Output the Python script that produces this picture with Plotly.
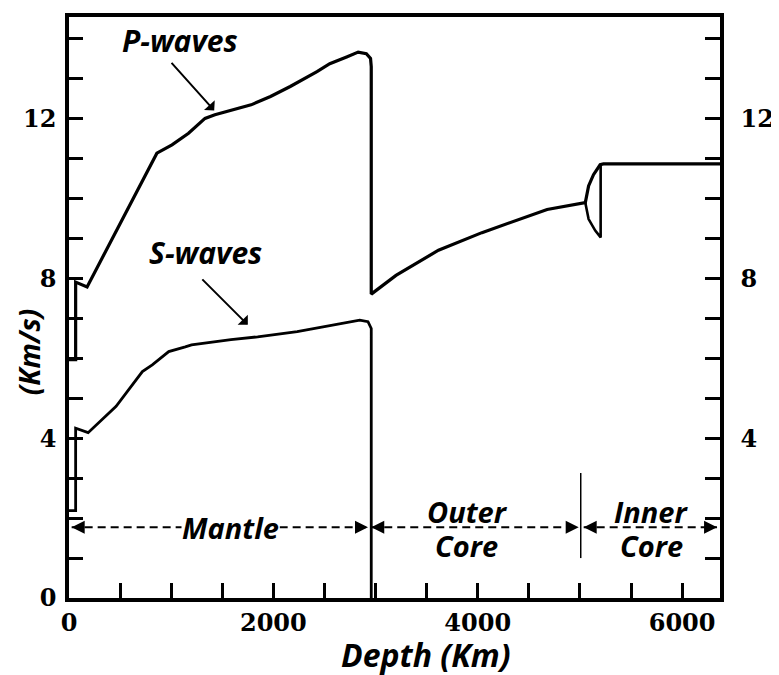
import plotly.graph_objects as go

# ---- data (depth km, velocity km/s) ----
p_depth = [0, 65, 65, 177, 860, 1008, 1170, 1331, 1428, 1782, 1972, 2165, 2427, 2552,
           2717, 2830, 2910, 2951, 2958, 2958, 3200, 3616, 4041, 4679, 5053,
           5085, 5133, 5198, 5230, 6371]
p_vel = [5.97, 5.97, 7.91, 7.79, 11.14, 11.35, 11.64, 12.01, 12.10, 12.35, 12.56, 12.81, 13.18, 13.38,
         13.55, 13.67, 13.63, 13.51, 13.31, 7.61, 8.08, 8.71, 9.15, 9.73, 9.90,
         10.32, 10.60, 10.85, 10.87, 10.87]

# lower branch of the inner-core transition lens
p2_depth = [5053, 5085, 5150, 5203, 5203]
p2_vel = [9.90, 9.49, 9.20, 9.03, 10.85]

s_depth = [0, 65, 65, 187, 461, 622, 718, 815, 976, 1138, 1199, 1585, 1846, 2233, 2491,
           2845, 2926, 2958, 2958]
s_vel = [2.19, 2.19, 4.25, 4.14, 4.80, 5.34, 5.67, 5.84, 6.17, 6.29, 6.34, 6.47, 6.54, 6.67, 6.79,
         6.96, 6.92, 6.75, 0.0]

x_ticks = list(range(0, 6001, 500))
x_ticktext = ["0" if v == 0 else (str(v) if v % 2000 == 0 else "") for v in x_ticks]
y_ticks = list(range(0, 15))
y_ticktext = [str(v) if v % 4 == 0 else "" for v in y_ticks]
y2_ticktext = [str(v) if (v % 4 == 0 and v > 0) else "" for v in y_ticks]

X_MAX = 6371
Y_MAX = 14.55

# region annotation layout (data coordinates)
region_y = 1.77
mantle = (26, 2926)
outer = (2958, 4988)
inner = (5037, 6342)
icb_depth = 5008

FAM = "Open Sans"
label_font = dict(family=FAM, size=29, color="black", weight="bold", style="italic")
wave_font = dict(family=FAM, size=30, color="black", weight="bold", style="italic")
title_font = dict(family=FAM, size=32, color="black", weight="bold", style="italic")
ytitle_font = dict(family=FAM, size=28, color="black", weight="bold", style="italic")
tick_font = dict(family="DejaVu Serif", size=24, color="black", weight="bold")

fig = go.Figure()
fig.add_trace(go.Scatter(x=p_depth, y=p_vel, mode="lines",
                         line=dict(color="black", width=3.2), hoverinfo="skip"))
fig.add_trace(go.Scatter(x=p2_depth, y=p2_vel, mode="lines",
                         line=dict(color="black", width=2.6), hoverinfo="skip"))
fig.add_trace(go.Scatter(x=s_depth, y=s_vel, mode="lines",
                         line=dict(color="black", width=2.8), hoverinfo="skip"))
fig.add_trace(go.Scatter(x=[0], y=[0], yaxis="y2", mode="markers",
                         marker=dict(opacity=0), hoverinfo="skip"))

shapes = []
for a, b in (mantle, outer, inner):
    shapes.append(dict(type="line", xref="x", yref="y", x0=a, x1=b, y0=region_y, y1=region_y,
                       line=dict(color="black", width=2, dash="8px,5px")))
shapes.append(dict(type="line", xref="x", yref="y", x0=icb_depth, x1=icb_depth, y0=1.0, y1=3.13,
                   line=dict(color="black", width=1.5)))

ann = []
for a, b in (mantle, outer, inner):
    ann.append(dict(x=a, y=region_y, ax=14, ay=0, text="", showarrow=True, arrowhead=2,
                    arrowsize=1.3, arrowwidth=2, arrowcolor="black", xref="x", yref="y"))
    ann.append(dict(x=b, y=region_y, ax=-14, ay=0, text="", showarrow=True, arrowhead=2,
                    arrowsize=1.3, arrowwidth=2, arrowcolor="black", xref="x", yref="y"))
ann.append(dict(x=1585, y=region_y, text="Mantle", showarrow=False, font=label_font,
                bgcolor="white", borderpad=0, xref="x", yref="y"))
ann.append(dict(x=3896, y=2.17, text="Outer", showarrow=False, font=label_font, xref="x", yref="y"))
ann.append(dict(x=3886, y=1.32, text="Core", showarrow=False, font=label_font, xref="x", yref="y"))
ann.append(dict(x=5694, y=2.17, text="Inner", showarrow=False, font=label_font, xref="x", yref="y"))
ann.append(dict(x=5704, y=1.32, text="Core", showarrow=False, font=label_font, xref="x", yref="y"))
ann.append(dict(x=1083, y=13.95, text="P-waves", showarrow=False, font=wave_font, xref="x", yref="y"))
ann.append(dict(x=1421, y=12.21, ax=-44, ay=-49, text="", showarrow=True, arrowhead=1,
                arrowsize=1.2, arrowwidth=2, arrowcolor="black", xref="x", yref="y"))
ann.append(dict(x=1334, y=8.65, text="S-waves", showarrow=False, font=wave_font, xref="x", yref="y"))
ann.append(dict(x=1750, y=6.84, ax=-47, ay=-47, text="", showarrow=True, arrowhead=1,
                arrowsize=1.2, arrowwidth=2, arrowcolor="black", xref="x", yref="y"))

# axis titles, placed by screen pixel then converted to paper coords
PX_L, PX_R, PX_T, PX_B = 69, 728, 13, 598
def to_paper(px, py):
    return (px - PX_L) / (PX_R - PX_L), (PX_B - py) / (PX_B - PX_T)

tx, ty = to_paper(430, 655)
ann.append(dict(x=tx, y=ty, xref="paper", yref="paper", text="Depth (Km)", showarrow=False,
                xanchor="center", yanchor="middle", font=title_font))
tx, ty = to_paper(28, 350)
ann.append(dict(x=tx, y=ty, xref="paper", yref="paper", text="(Km/s)", showarrow=False,
                xanchor="center", yanchor="middle", textangle=-90, font=ytitle_font))

# the page body adds an 8px offset; compensate so the plot lands at the reference pixels
OFF = 8
W, H = 779 - OFF, 675 - OFF
ML = PX_L - OFF
MT = PX_T - OFF
MR = W - ML - (PX_R - PX_L)
MB = H - MT - (PX_B - PX_T)

axis_common = dict(showgrid=False, zeroline=False, showline=True, linecolor="black",
                   ticks="inside", tickcolor="black", tickfont=tick_font)

fig.update_layout(
    width=W, height=H,
    margin=dict(l=ML, r=MR, t=MT, b=MB),
    plot_bgcolor="white", paper_bgcolor="white",
    showlegend=False,
    xaxis=dict(range=[0, X_MAX], tickmode="array", tickvals=x_ticks, ticktext=x_ticktext,
               ticklen=15, tickwidth=2.5, linewidth=3.5, mirror=True, ticklabelstandoff=0,
               **axis_common),
    yaxis=dict(range=[0, Y_MAX], tickmode="array", tickvals=y_ticks, ticktext=y_ticktext,
               ticklen=14, tickwidth=2.5, linewidth=3.5, ticklabelstandoff=4, **axis_common),
    yaxis2=dict(range=[0, Y_MAX], overlaying="y", side="right", tickmode="array",
                tickvals=y_ticks, ticktext=y2_ticktext, ticklen=15, tickwidth=2.5,
                linewidth=3.5, ticklabelstandoff=12, **axis_common),
    shapes=shapes,
    annotations=ann,
)

fig.write_html("out.html")
